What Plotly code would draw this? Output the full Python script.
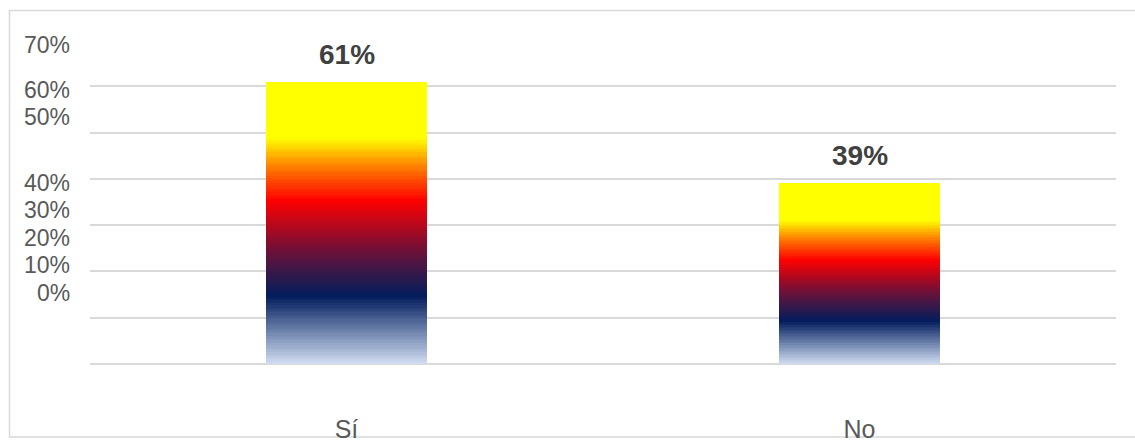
import numpy as np
import plotly.graph_objects as go
from plotly.colors import sample_colorscale

# Survey answers and their shares (percent)
categories = ["Sí", "No"]
shares = [61, 39]
value_labels = ["61%", "39%"]

# Y axis labels as printed on the left side
tick_labels = ["70%", "60%", "50%", "40%", "30%", "20%", "10%", "0%"]
# vertical pixel rows of those labels (from top of page)
tick_label_rows = [45, 90, 117, 183, 210, 238, 265, 293]

W, H = 1135, 442
M_L, M_R, M_T, M_B = 90, 19, 40, 78
plot_w = W - M_L - M_R
plot_h = H - M_T - M_B

# Vertical gradient used to fill each bar (0 = bottom, 1 = top)
gradient = [
    [0.00, "#d2def2"],
    [0.12, "#6a80aa"],
    [0.24, "#031c5c"],
    [0.33, "#3b1848"],
    [0.42, "#7c0e33"],
    [0.58, "#ff0000"],
    [0.70, "#ff8000"],
    [0.80, "#ffff00"],
    [1.00, "#ffff00"],
]

n_steps = 120
step_pos = (np.arange(n_steps) + 0.5) / n_steps
step_colors = sample_colorscale(gradient, list(step_pos), colortype="rgb")

fig = go.Figure()
for k in range(n_steps):
    fig.add_trace(go.Bar(
        x=categories,
        y=[v / n_steps for v in shares],
        marker=dict(color=step_colors[k], line=dict(width=0)),
        hoverinfo="skip",
        showlegend=False,
    ))

# value labels above the bars
for cat, v, lab in zip(categories, shares, value_labels):
    fig.add_annotation(
        x=cat, y=v, text=f"<b>{lab}</b>", showarrow=False,
        yanchor="bottom", yshift=10,
        font=dict(family="Liberation Sans, Arial", size=28, color="#404040"),
    )

# left-side percentage labels
for lab, row in zip(tick_labels, tick_label_rows):
    fig.add_annotation(
        xref="paper", yref="paper",
        x=(72 - M_L) / plot_w, y=(H - M_B - row) / plot_h,
        text=lab, showarrow=False, xanchor="right", yanchor="middle",
        font=dict(family="Liberation Sans, Arial", size=23, color="#595959"),
    )

# outer chart border
fig.add_shape(
    type="rect", xref="paper", yref="paper",
    x0=(9.5 - M_L) / plot_w, x1=(1140 - M_L) / plot_w,
    y0=(H - M_B - 437) / plot_h, y1=(H - M_B - 10.5) / plot_h,
    line=dict(color="#d9d9d9", width=1.5), fillcolor="rgba(0,0,0,0)",
    layer="below",
)

fig.update_layout(
    width=W, height=H,
    margin=dict(l=M_L, r=M_R, t=M_T, b=M_B, autoexpand=False),
    barmode="stack",
    bargap=0.686,
    plot_bgcolor="white",
    paper_bgcolor="white",
    font=dict(family="Liberation Sans, Arial", color="#595959"),
    xaxis=dict(
        showgrid=False, showline=False, zeroline=False, ticks="",
        tickfont=dict(size=25, color="#595959"),
        ticklabelstandoff=48, automargin=False,
    ),
    yaxis=dict(
        range=[0, 70], dtick=10, showticklabels=False,
        showgrid=True, gridcolor="#d9d9d9", gridwidth=2,
        zeroline=True, zerolinecolor="#d9d9d9", zerolinewidth=2,
        showline=False, ticks="", automargin=False,
    ),
)

fig.write_html("out.html")
